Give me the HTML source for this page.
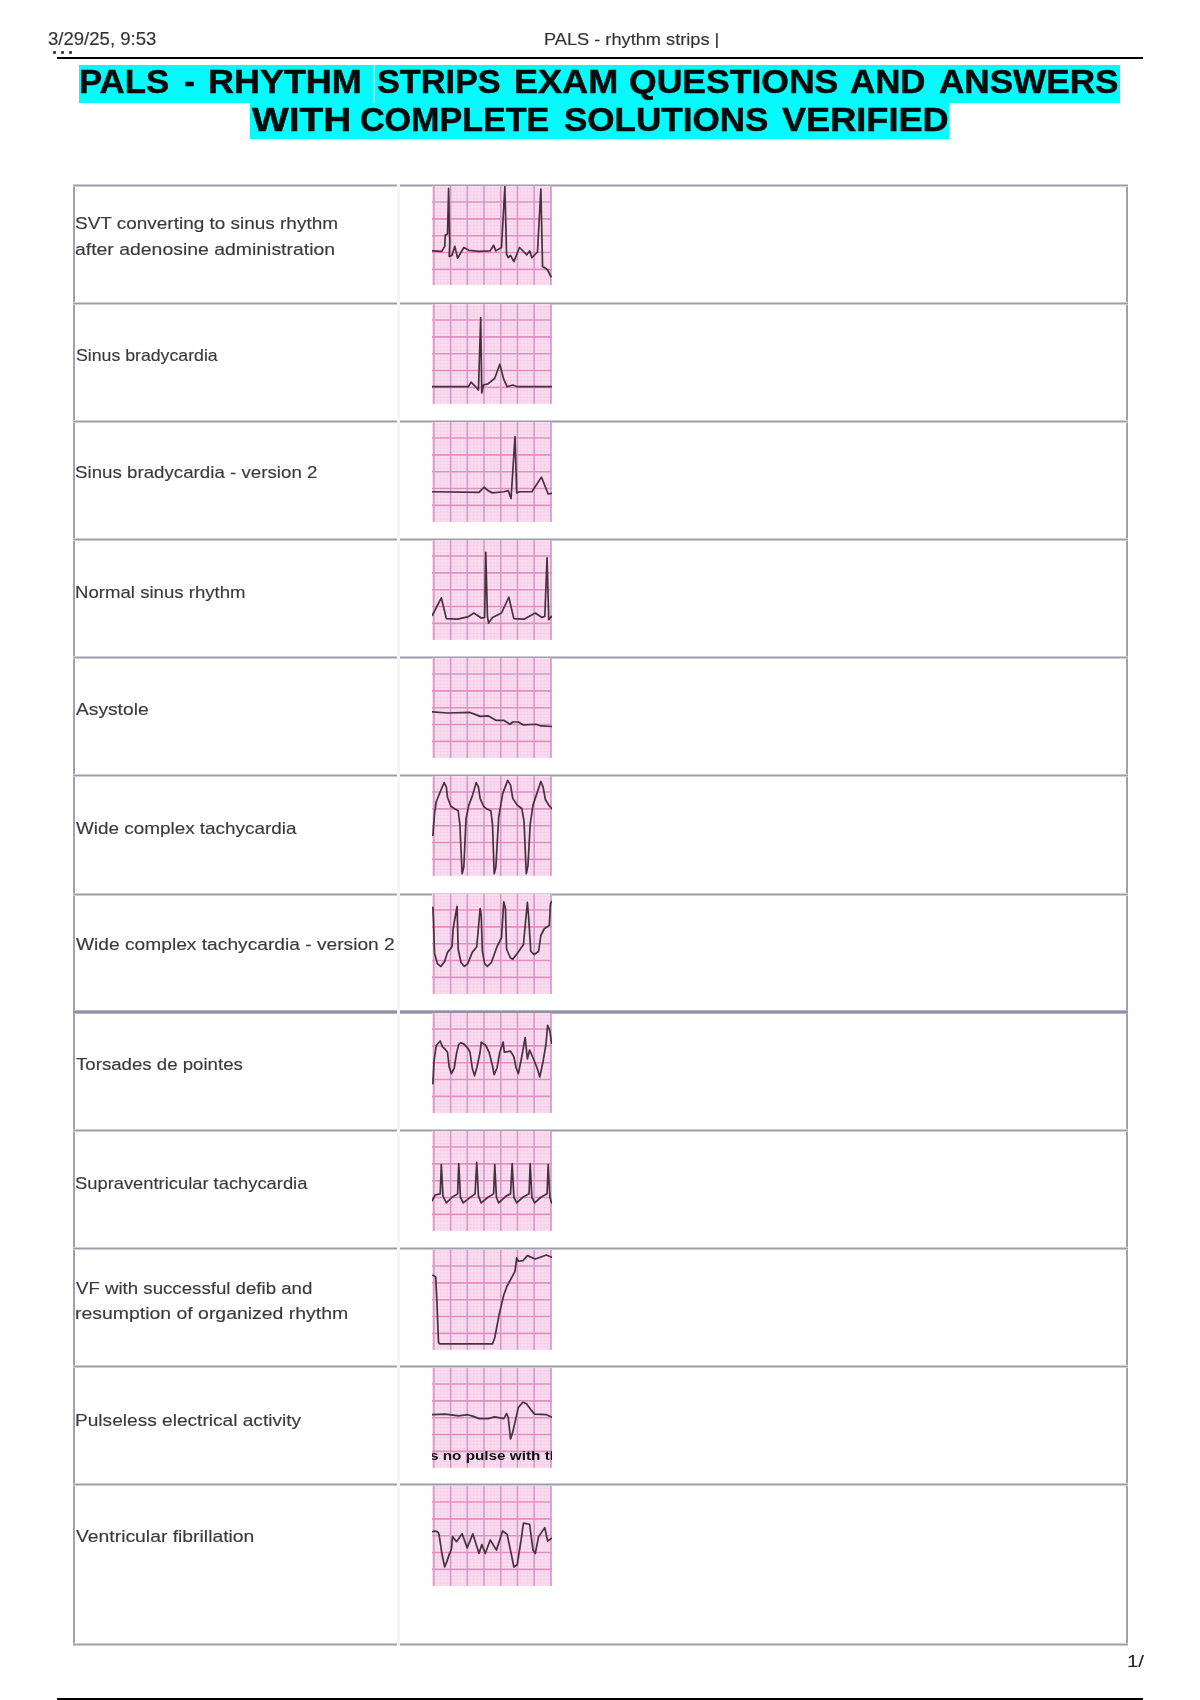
<!DOCTYPE html>
<html><head><meta charset="utf-8"><title>PALS - rhythm strips</title>
<style>
html,body{margin:0;padding:0;background:#fff;}
body{width:1200px;height:1700px;position:relative;overflow:hidden;font-family:"Liberation Sans",sans-serif;}
.a{position:absolute;white-space:nowrap;}
.hd{font-size:17px;color:#333;line-height:20px;transform-origin:0 0;-webkit-text-stroke:0.15px #333;}
.ttl{font-weight:700;font-size:30.5px;color:#050a0a;line-height:36px;transform-origin:0 0;-webkit-text-stroke:0.5px #050a0a;}
.hl{position:absolute;background:#05fbfb;}
.lb{font-size:15.8px;color:#3a3a3a;line-height:20px;transform-origin:0 0;-webkit-text-stroke:0.15px #3a3a3a;}
.hr{position:absolute;background:#000;}
.pgc{color:#222;}
.bd{position:absolute;background:#a0a0ac;}
.rl{background:linear-gradient(#e4e4ea,#9e9eaa 50%,#e4e4ea);}
.strip{position:absolute;left:432px;width:120px;height:100px;}
.strip svg{display:block;}
.mn{stroke:#f4cae4;stroke-width:0.6;}
.mv{stroke:#d498c2;stroke-width:1.6;}
.mh{stroke:#de90c2;stroke-width:1.6;}
.wv{fill:none;stroke:#46323f;stroke-width:1.7;stroke-linejoin:round;stroke-linecap:round;}
</style></head><body><div id="wrap" style="position:absolute;left:0;top:0;width:1200px;height:1700px;filter:blur(0.45px)">

<div class="a hd" id="date" style="left:48.10px;top:29.00px;font-size:17.5px;transform:scaleX(1.0606)">3/29/25, 9:53</div>
<div class="a" style="left:52.8px;top:50.8px;width:3px;height:2.8px;border-radius:1px;background:#3a3a3a"></div><div class="a" style="left:61px;top:50.8px;width:3px;height:2.8px;border-radius:1px;background:#3a3a3a"></div><div class="a" style="left:69.2px;top:50.8px;width:3px;height:2.8px;border-radius:1px;background:#3a3a3a"></div>
<div class="a hd" id="ptitle" style="left:544.06px;top:30.00px;font-size:17.0px;transform:scaleX(1.0706)">PALS - rhythm strips |</div>
<div class="hr" style="left:57px;top:57px;width:1086px;height:2px"></div>
<div class="hl" style="left:79px;top:65px;width:1041px;height:38px"></div>
<div class="a" style="left:373px;top:65px;width:1.5px;height:39px;background:#8cfafa"></div>
<div class="hl" style="left:250px;top:103px;width:699px;height:36px"></div>
<div class="a ttl" id="t1w0" style="left:79.46px;top:63.00px;font-size:34.0px;transform:scaleX(1.0220)">PALS</div>
<div class="a ttl" id="t1w1" style="left:184.10px;top:63.00px;font-size:34.0px;transform:scaleX(0.9662)">-</div>
<div class="a ttl" id="t1w2" style="left:207.99px;top:63.00px;font-size:34.0px;transform:scaleX(1.0571)">RHYTHM</div>
<div class="a ttl" id="t1w3" style="left:376.61px;top:63.00px;font-size:34.0px;transform:scaleX(1.0072)">STRIPS</div>
<div class="a ttl" id="t1w4" style="left:514.08px;top:63.00px;font-size:34.0px;transform:scaleX(1.0606)">EXAM</div>
<div class="a ttl" id="t1w5" style="left:629.00px;top:63.00px;font-size:34.0px;transform:scaleX(1.0450)">QUESTIONS</div>
<div class="a ttl" id="t1w6" style="left:850.11px;top:63.00px;font-size:34.0px;transform:scaleX(1.0253)">AND</div>
<div class="a ttl" id="t1w7" style="left:939.01px;top:63.00px;font-size:34.0px;transform:scaleX(1.0325)">ANSWERS</div>
<div class="a ttl" id="t2w0" style="left:252.00px;top:100.80px;font-size:34.0px;transform:scaleX(1.1421)">WITH</div>
<div class="a ttl" id="t2w1" style="left:360.13px;top:100.80px;font-size:34.0px;transform:scaleX(1.0018)">COMPLETE</div>
<div class="a ttl" id="t2w2" style="left:564.02px;top:100.80px;font-size:34.0px;transform:scaleX(1.0301)">SOLUTIONS</div>
<div class="a ttl" id="t2w3" style="left:782.49px;top:100.80px;font-size:34.0px;transform:scaleX(1.0629)">VERIFIED</div>
<div class="bd" style="left:73px;top:184px;width:2px;height:1462px"></div>
<div class="bd" style="left:1126px;top:184px;width:2px;height:1462px"></div>
<div class="a rl" style="left:73px;top:183.50px;width:1055px;height:3px"></div>
<div class="a rl" style="left:73px;top:301.68px;width:1055px;height:3px"></div>
<div class="a rl" style="left:73px;top:419.86px;width:1055px;height:3px"></div>
<div class="a rl" style="left:73px;top:538.04px;width:1055px;height:3px"></div>
<div class="a rl" style="left:73px;top:656.22px;width:1055px;height:3px"></div>
<div class="a rl" style="left:73px;top:774.40px;width:1055px;height:3px"></div>
<div class="a rl" style="left:73px;top:892.58px;width:1055px;height:3px"></div>
<div class="a" style="left:73px;top:1010.26px;width:1055px;height:4px;background:linear-gradient(#c4c6d4,#8a8ca2 40%,#8a8ca2 60%,#c4c6d4)"></div>
<div class="a rl" style="left:73px;top:1128.94px;width:1055px;height:3px"></div>
<div class="a rl" style="left:73px;top:1247.12px;width:1055px;height:3px"></div>
<div class="a rl" style="left:73px;top:1365.30px;width:1055px;height:3px"></div>
<div class="a rl" style="left:73px;top:1483.48px;width:1055px;height:3px"></div>
<div class="a rl" style="left:73px;top:1643.00px;width:1055px;height:3px"></div>
<div class="a" style="left:397px;top:184px;width:2.5px;height:1462px;background:#f5f5f8"></div>
<div class="a lb" id="l0_0" style="left:74.94px;top:213.30px;font-size:16.4px;transform:scaleX(1.1562)">SVT converting to sinus rhythm</div>
<div class="a lb" id="l0_1" style="left:74.90px;top:238.50px;font-size:16.4px;transform:scaleX(1.1842)">after adenosine administration</div>
<div class="a lb" id="l1_0" style="left:75.99px;top:345.40px;font-size:16.4px;transform:scaleX(1.0798)">Sinus bradycardia</div>
<div class="a lb" id="l2_0" style="left:74.96px;top:462.40px;font-size:16.4px;transform:scaleX(1.1420)">Sinus bradycardia - version 2</div>
<div class="a lb" id="l3_0" style="left:74.85px;top:582.00px;font-size:16.4px;transform:scaleX(1.1352)">Normal sinus rhythm</div>
<div class="a lb" id="l4_0" style="left:75.75px;top:698.80px;font-size:16.4px;transform:scaleX(1.1717)">Asystole</div>
<div class="a lb" id="l5_0" style="left:75.94px;top:817.80px;font-size:16.4px;transform:scaleX(1.1520)">Wide complex tachycardia</div>
<div class="a lb" id="l6_0" style="left:75.93px;top:934.20px;font-size:16.4px;transform:scaleX(1.1703)">Wide complex tachycardia - version 2</div>
<div class="a lb" id="l7_0" style="left:75.90px;top:1053.80px;font-size:16.4px;transform:scaleX(1.1373)">Torsades de pointes</div>
<div class="a lb" id="l8_0" style="left:74.96px;top:1173.40px;font-size:16.4px;transform:scaleX(1.1187)">Supraventricular tachycardia</div>
<div class="a lb" id="l9_0" style="left:75.95px;top:1278.40px;font-size:16.4px;transform:scaleX(1.1377)">VF with successful defib and</div>
<div class="a lb" id="l9_1" style="left:74.88px;top:1303.20px;font-size:16.4px;transform:scaleX(1.1852)">resumption of organized rhythm</div>
<div class="a lb" id="l10_0" style="left:74.88px;top:1409.60px;font-size:16.4px;transform:scaleX(1.1654)">Pulseless electrical activity</div>
<div class="a lb" id="l11_0" style="left:75.85px;top:1526.00px;font-size:16.4px;transform:scaleX(1.1794)">Ventricular fibrillation</div>
<div class="strip" style="top:186px;height:99px;overflow:hidden"><svg width="120" height="99" viewBox="0 0 120 99"><rect width="120" height="100" fill="#fcdef3"/><line x1="5.24" y1="0" x2="5.24" y2="100" class="mn"/><line x1="8.58" y1="0" x2="8.58" y2="100" class="mn"/><line x1="11.93" y1="0" x2="11.93" y2="100" class="mn"/><line x1="15.27" y1="0" x2="15.27" y2="100" class="mn"/><line x1="21.95" y1="0" x2="21.95" y2="100" class="mn"/><line x1="25.29" y1="0" x2="25.29" y2="100" class="mn"/><line x1="28.64" y1="0" x2="28.64" y2="100" class="mn"/><line x1="31.98" y1="0" x2="31.98" y2="100" class="mn"/><line x1="38.66" y1="0" x2="38.66" y2="100" class="mn"/><line x1="42.00" y1="0" x2="42.00" y2="100" class="mn"/><line x1="45.35" y1="0" x2="45.35" y2="100" class="mn"/><line x1="48.69" y1="0" x2="48.69" y2="100" class="mn"/><line x1="55.37" y1="0" x2="55.37" y2="100" class="mn"/><line x1="58.71" y1="0" x2="58.71" y2="100" class="mn"/><line x1="62.06" y1="0" x2="62.06" y2="100" class="mn"/><line x1="65.40" y1="0" x2="65.40" y2="100" class="mn"/><line x1="72.08" y1="0" x2="72.08" y2="100" class="mn"/><line x1="75.42" y1="0" x2="75.42" y2="100" class="mn"/><line x1="78.77" y1="0" x2="78.77" y2="100" class="mn"/><line x1="82.11" y1="0" x2="82.11" y2="100" class="mn"/><line x1="88.79" y1="0" x2="88.79" y2="100" class="mn"/><line x1="92.13" y1="0" x2="92.13" y2="100" class="mn"/><line x1="95.48" y1="0" x2="95.48" y2="100" class="mn"/><line x1="98.82" y1="0" x2="98.82" y2="100" class="mn"/><line x1="105.50" y1="0" x2="105.50" y2="100" class="mn"/><line x1="108.84" y1="0" x2="108.84" y2="100" class="mn"/><line x1="112.19" y1="0" x2="112.19" y2="100" class="mn"/><line x1="115.53" y1="0" x2="115.53" y2="100" class="mn"/><line x1="0" y1="2.52" x2="120" y2="2.52" class="mn"/><line x1="0" y1="5.89" x2="120" y2="5.89" class="mn"/><line x1="0" y1="9.26" x2="120" y2="9.26" class="mn"/><line x1="0" y1="12.63" x2="120" y2="12.63" class="mn"/><line x1="0" y1="19.37" x2="120" y2="19.37" class="mn"/><line x1="0" y1="22.74" x2="120" y2="22.74" class="mn"/><line x1="0" y1="26.11" x2="120" y2="26.11" class="mn"/><line x1="0" y1="29.48" x2="120" y2="29.48" class="mn"/><line x1="0" y1="36.22" x2="120" y2="36.22" class="mn"/><line x1="0" y1="39.59" x2="120" y2="39.59" class="mn"/><line x1="0" y1="42.96" x2="120" y2="42.96" class="mn"/><line x1="0" y1="46.33" x2="120" y2="46.33" class="mn"/><line x1="0" y1="53.07" x2="120" y2="53.07" class="mn"/><line x1="0" y1="56.44" x2="120" y2="56.44" class="mn"/><line x1="0" y1="59.81" x2="120" y2="59.81" class="mn"/><line x1="0" y1="63.18" x2="120" y2="63.18" class="mn"/><line x1="0" y1="69.92" x2="120" y2="69.92" class="mn"/><line x1="0" y1="73.29" x2="120" y2="73.29" class="mn"/><line x1="0" y1="76.66" x2="120" y2="76.66" class="mn"/><line x1="0" y1="80.03" x2="120" y2="80.03" class="mn"/><line x1="0" y1="86.77" x2="120" y2="86.77" class="mn"/><line x1="0" y1="90.14" x2="120" y2="90.14" class="mn"/><line x1="0" y1="93.51" x2="120" y2="93.51" class="mn"/><line x1="0" y1="96.88" x2="120" y2="96.88" class="mn"/><line x1="1.90" y1="0" x2="1.90" y2="100" class="mv"/><line x1="18.61" y1="0" x2="18.61" y2="100" class="mv"/><line x1="35.32" y1="0" x2="35.32" y2="100" class="mv"/><line x1="52.03" y1="0" x2="52.03" y2="100" class="mv"/><line x1="68.74" y1="0" x2="68.74" y2="100" class="mv"/><line x1="85.45" y1="0" x2="85.45" y2="100" class="mv"/><line x1="102.16" y1="0" x2="102.16" y2="100" class="mv"/><line x1="118.87" y1="0" x2="118.87" y2="100" class="mv"/><line x1="0" y1="16.00" x2="120" y2="16.00" class="mh"/><line x1="0" y1="32.85" x2="120" y2="32.85" class="mh"/><line x1="0" y1="49.70" x2="120" y2="49.70" class="mh"/><line x1="0" y1="66.55" x2="120" y2="66.55" class="mh"/><line x1="0" y1="83.40" x2="120" y2="83.40" class="mh"/><polyline class="wv" points="0.31,64.87 9.87,65.44 12.69,60.37 13.25,49.12 15.50,48.00 16.62,2.44 17.75,57.00 17.19,70.50 20.00,69.37 22.81,60.37 25.62,72.19 31.81,61.50 36.87,64.31 47.00,65.44 58.25,64.87 61.62,59.25 63.87,64.87 69.50,61.50 72.87,0.75 74.56,68.25 76.25,71.62 78.50,69.37 81.87,75.56 87.50,61.50 92.00,66.00 94.81,68.81 97.62,64.87 99.87,71.62 105.50,66.00 108.87,3.00 110.56,80.62 112.81,81.75 115.62,84.00 119.00,90.75"/></svg></div>
<div class="strip" style="top:304px;height:100px;overflow:hidden"><svg width="120" height="100" viewBox="0 0 120 100"><rect width="120" height="100" fill="#fcdef3"/><line x1="5.24" y1="0" x2="5.24" y2="100" class="mn"/><line x1="8.58" y1="0" x2="8.58" y2="100" class="mn"/><line x1="11.93" y1="0" x2="11.93" y2="100" class="mn"/><line x1="15.27" y1="0" x2="15.27" y2="100" class="mn"/><line x1="21.95" y1="0" x2="21.95" y2="100" class="mn"/><line x1="25.29" y1="0" x2="25.29" y2="100" class="mn"/><line x1="28.64" y1="0" x2="28.64" y2="100" class="mn"/><line x1="31.98" y1="0" x2="31.98" y2="100" class="mn"/><line x1="38.66" y1="0" x2="38.66" y2="100" class="mn"/><line x1="42.00" y1="0" x2="42.00" y2="100" class="mn"/><line x1="45.35" y1="0" x2="45.35" y2="100" class="mn"/><line x1="48.69" y1="0" x2="48.69" y2="100" class="mn"/><line x1="55.37" y1="0" x2="55.37" y2="100" class="mn"/><line x1="58.71" y1="0" x2="58.71" y2="100" class="mn"/><line x1="62.06" y1="0" x2="62.06" y2="100" class="mn"/><line x1="65.40" y1="0" x2="65.40" y2="100" class="mn"/><line x1="72.08" y1="0" x2="72.08" y2="100" class="mn"/><line x1="75.42" y1="0" x2="75.42" y2="100" class="mn"/><line x1="78.77" y1="0" x2="78.77" y2="100" class="mn"/><line x1="82.11" y1="0" x2="82.11" y2="100" class="mn"/><line x1="88.79" y1="0" x2="88.79" y2="100" class="mn"/><line x1="92.13" y1="0" x2="92.13" y2="100" class="mn"/><line x1="95.48" y1="0" x2="95.48" y2="100" class="mn"/><line x1="98.82" y1="0" x2="98.82" y2="100" class="mn"/><line x1="105.50" y1="0" x2="105.50" y2="100" class="mn"/><line x1="108.84" y1="0" x2="108.84" y2="100" class="mn"/><line x1="112.19" y1="0" x2="112.19" y2="100" class="mn"/><line x1="115.53" y1="0" x2="115.53" y2="100" class="mn"/><line x1="0" y1="2.52" x2="120" y2="2.52" class="mn"/><line x1="0" y1="5.89" x2="120" y2="5.89" class="mn"/><line x1="0" y1="9.26" x2="120" y2="9.26" class="mn"/><line x1="0" y1="12.63" x2="120" y2="12.63" class="mn"/><line x1="0" y1="19.37" x2="120" y2="19.37" class="mn"/><line x1="0" y1="22.74" x2="120" y2="22.74" class="mn"/><line x1="0" y1="26.11" x2="120" y2="26.11" class="mn"/><line x1="0" y1="29.48" x2="120" y2="29.48" class="mn"/><line x1="0" y1="36.22" x2="120" y2="36.22" class="mn"/><line x1="0" y1="39.59" x2="120" y2="39.59" class="mn"/><line x1="0" y1="42.96" x2="120" y2="42.96" class="mn"/><line x1="0" y1="46.33" x2="120" y2="46.33" class="mn"/><line x1="0" y1="53.07" x2="120" y2="53.07" class="mn"/><line x1="0" y1="56.44" x2="120" y2="56.44" class="mn"/><line x1="0" y1="59.81" x2="120" y2="59.81" class="mn"/><line x1="0" y1="63.18" x2="120" y2="63.18" class="mn"/><line x1="0" y1="69.92" x2="120" y2="69.92" class="mn"/><line x1="0" y1="73.29" x2="120" y2="73.29" class="mn"/><line x1="0" y1="76.66" x2="120" y2="76.66" class="mn"/><line x1="0" y1="80.03" x2="120" y2="80.03" class="mn"/><line x1="0" y1="86.77" x2="120" y2="86.77" class="mn"/><line x1="0" y1="90.14" x2="120" y2="90.14" class="mn"/><line x1="0" y1="93.51" x2="120" y2="93.51" class="mn"/><line x1="0" y1="96.88" x2="120" y2="96.88" class="mn"/><line x1="1.90" y1="0" x2="1.90" y2="100" class="mv"/><line x1="18.61" y1="0" x2="18.61" y2="100" class="mv"/><line x1="35.32" y1="0" x2="35.32" y2="100" class="mv"/><line x1="52.03" y1="0" x2="52.03" y2="100" class="mv"/><line x1="68.74" y1="0" x2="68.74" y2="100" class="mv"/><line x1="85.45" y1="0" x2="85.45" y2="100" class="mv"/><line x1="102.16" y1="0" x2="102.16" y2="100" class="mv"/><line x1="118.87" y1="0" x2="118.87" y2="100" class="mv"/><line x1="0" y1="16.00" x2="120" y2="16.00" class="mh"/><line x1="0" y1="32.85" x2="120" y2="32.85" class="mh"/><line x1="0" y1="49.70" x2="120" y2="49.70" class="mh"/><line x1="0" y1="66.55" x2="120" y2="66.55" class="mh"/><line x1="0" y1="83.40" x2="120" y2="83.40" class="mh"/><polyline class="wv" points="0.31,82.69 36.31,82.69 39.12,78.19 42.50,81.56 46.44,86.06 48.69,13.50 49.81,88.87 51.50,81.00 56.00,79.87 62.75,74.25 67.81,60.19 71.75,75.37 75.12,82.69 80.75,81.00 85.25,82.69 119.56,82.69"/></svg></div>
<div class="strip" style="top:422px;height:100px;overflow:hidden"><svg width="120" height="100" viewBox="0 0 120 100"><rect width="120" height="100" fill="#fcdef3"/><line x1="5.24" y1="0" x2="5.24" y2="100" class="mn"/><line x1="8.58" y1="0" x2="8.58" y2="100" class="mn"/><line x1="11.93" y1="0" x2="11.93" y2="100" class="mn"/><line x1="15.27" y1="0" x2="15.27" y2="100" class="mn"/><line x1="21.95" y1="0" x2="21.95" y2="100" class="mn"/><line x1="25.29" y1="0" x2="25.29" y2="100" class="mn"/><line x1="28.64" y1="0" x2="28.64" y2="100" class="mn"/><line x1="31.98" y1="0" x2="31.98" y2="100" class="mn"/><line x1="38.66" y1="0" x2="38.66" y2="100" class="mn"/><line x1="42.00" y1="0" x2="42.00" y2="100" class="mn"/><line x1="45.35" y1="0" x2="45.35" y2="100" class="mn"/><line x1="48.69" y1="0" x2="48.69" y2="100" class="mn"/><line x1="55.37" y1="0" x2="55.37" y2="100" class="mn"/><line x1="58.71" y1="0" x2="58.71" y2="100" class="mn"/><line x1="62.06" y1="0" x2="62.06" y2="100" class="mn"/><line x1="65.40" y1="0" x2="65.40" y2="100" class="mn"/><line x1="72.08" y1="0" x2="72.08" y2="100" class="mn"/><line x1="75.42" y1="0" x2="75.42" y2="100" class="mn"/><line x1="78.77" y1="0" x2="78.77" y2="100" class="mn"/><line x1="82.11" y1="0" x2="82.11" y2="100" class="mn"/><line x1="88.79" y1="0" x2="88.79" y2="100" class="mn"/><line x1="92.13" y1="0" x2="92.13" y2="100" class="mn"/><line x1="95.48" y1="0" x2="95.48" y2="100" class="mn"/><line x1="98.82" y1="0" x2="98.82" y2="100" class="mn"/><line x1="105.50" y1="0" x2="105.50" y2="100" class="mn"/><line x1="108.84" y1="0" x2="108.84" y2="100" class="mn"/><line x1="112.19" y1="0" x2="112.19" y2="100" class="mn"/><line x1="115.53" y1="0" x2="115.53" y2="100" class="mn"/><line x1="0" y1="2.52" x2="120" y2="2.52" class="mn"/><line x1="0" y1="5.89" x2="120" y2="5.89" class="mn"/><line x1="0" y1="9.26" x2="120" y2="9.26" class="mn"/><line x1="0" y1="12.63" x2="120" y2="12.63" class="mn"/><line x1="0" y1="19.37" x2="120" y2="19.37" class="mn"/><line x1="0" y1="22.74" x2="120" y2="22.74" class="mn"/><line x1="0" y1="26.11" x2="120" y2="26.11" class="mn"/><line x1="0" y1="29.48" x2="120" y2="29.48" class="mn"/><line x1="0" y1="36.22" x2="120" y2="36.22" class="mn"/><line x1="0" y1="39.59" x2="120" y2="39.59" class="mn"/><line x1="0" y1="42.96" x2="120" y2="42.96" class="mn"/><line x1="0" y1="46.33" x2="120" y2="46.33" class="mn"/><line x1="0" y1="53.07" x2="120" y2="53.07" class="mn"/><line x1="0" y1="56.44" x2="120" y2="56.44" class="mn"/><line x1="0" y1="59.81" x2="120" y2="59.81" class="mn"/><line x1="0" y1="63.18" x2="120" y2="63.18" class="mn"/><line x1="0" y1="69.92" x2="120" y2="69.92" class="mn"/><line x1="0" y1="73.29" x2="120" y2="73.29" class="mn"/><line x1="0" y1="76.66" x2="120" y2="76.66" class="mn"/><line x1="0" y1="80.03" x2="120" y2="80.03" class="mn"/><line x1="0" y1="86.77" x2="120" y2="86.77" class="mn"/><line x1="0" y1="90.14" x2="120" y2="90.14" class="mn"/><line x1="0" y1="93.51" x2="120" y2="93.51" class="mn"/><line x1="0" y1="96.88" x2="120" y2="96.88" class="mn"/><line x1="1.90" y1="0" x2="1.90" y2="100" class="mv"/><line x1="18.61" y1="0" x2="18.61" y2="100" class="mv"/><line x1="35.32" y1="0" x2="35.32" y2="100" class="mv"/><line x1="52.03" y1="0" x2="52.03" y2="100" class="mv"/><line x1="68.74" y1="0" x2="68.74" y2="100" class="mv"/><line x1="85.45" y1="0" x2="85.45" y2="100" class="mv"/><line x1="102.16" y1="0" x2="102.16" y2="100" class="mv"/><line x1="118.87" y1="0" x2="118.87" y2="100" class="mv"/><line x1="0" y1="16.00" x2="120" y2="16.00" class="mh"/><line x1="0" y1="32.85" x2="120" y2="32.85" class="mh"/><line x1="0" y1="49.70" x2="120" y2="49.70" class="mh"/><line x1="0" y1="66.55" x2="120" y2="66.55" class="mh"/><line x1="0" y1="83.40" x2="120" y2="83.40" class="mh"/><polyline class="wv" points="0.31,69.75 47.00,70.31 52.06,65.25 56.00,68.62 60.50,70.87 71.75,69.75 76.25,68.62 79.06,76.50 83.00,14.62 84.69,70.87 87.50,69.75 99.87,69.75 109.44,55.12 116.19,72.00 119.56,71.44"/></svg></div>
<div class="strip" style="top:540px;height:100px;overflow:hidden"><svg width="120" height="100" viewBox="0 0 120 100"><rect width="120" height="100" fill="#fcdef3"/><line x1="5.24" y1="0" x2="5.24" y2="100" class="mn"/><line x1="8.58" y1="0" x2="8.58" y2="100" class="mn"/><line x1="11.93" y1="0" x2="11.93" y2="100" class="mn"/><line x1="15.27" y1="0" x2="15.27" y2="100" class="mn"/><line x1="21.95" y1="0" x2="21.95" y2="100" class="mn"/><line x1="25.29" y1="0" x2="25.29" y2="100" class="mn"/><line x1="28.64" y1="0" x2="28.64" y2="100" class="mn"/><line x1="31.98" y1="0" x2="31.98" y2="100" class="mn"/><line x1="38.66" y1="0" x2="38.66" y2="100" class="mn"/><line x1="42.00" y1="0" x2="42.00" y2="100" class="mn"/><line x1="45.35" y1="0" x2="45.35" y2="100" class="mn"/><line x1="48.69" y1="0" x2="48.69" y2="100" class="mn"/><line x1="55.37" y1="0" x2="55.37" y2="100" class="mn"/><line x1="58.71" y1="0" x2="58.71" y2="100" class="mn"/><line x1="62.06" y1="0" x2="62.06" y2="100" class="mn"/><line x1="65.40" y1="0" x2="65.40" y2="100" class="mn"/><line x1="72.08" y1="0" x2="72.08" y2="100" class="mn"/><line x1="75.42" y1="0" x2="75.42" y2="100" class="mn"/><line x1="78.77" y1="0" x2="78.77" y2="100" class="mn"/><line x1="82.11" y1="0" x2="82.11" y2="100" class="mn"/><line x1="88.79" y1="0" x2="88.79" y2="100" class="mn"/><line x1="92.13" y1="0" x2="92.13" y2="100" class="mn"/><line x1="95.48" y1="0" x2="95.48" y2="100" class="mn"/><line x1="98.82" y1="0" x2="98.82" y2="100" class="mn"/><line x1="105.50" y1="0" x2="105.50" y2="100" class="mn"/><line x1="108.84" y1="0" x2="108.84" y2="100" class="mn"/><line x1="112.19" y1="0" x2="112.19" y2="100" class="mn"/><line x1="115.53" y1="0" x2="115.53" y2="100" class="mn"/><line x1="0" y1="2.52" x2="120" y2="2.52" class="mn"/><line x1="0" y1="5.89" x2="120" y2="5.89" class="mn"/><line x1="0" y1="9.26" x2="120" y2="9.26" class="mn"/><line x1="0" y1="12.63" x2="120" y2="12.63" class="mn"/><line x1="0" y1="19.37" x2="120" y2="19.37" class="mn"/><line x1="0" y1="22.74" x2="120" y2="22.74" class="mn"/><line x1="0" y1="26.11" x2="120" y2="26.11" class="mn"/><line x1="0" y1="29.48" x2="120" y2="29.48" class="mn"/><line x1="0" y1="36.22" x2="120" y2="36.22" class="mn"/><line x1="0" y1="39.59" x2="120" y2="39.59" class="mn"/><line x1="0" y1="42.96" x2="120" y2="42.96" class="mn"/><line x1="0" y1="46.33" x2="120" y2="46.33" class="mn"/><line x1="0" y1="53.07" x2="120" y2="53.07" class="mn"/><line x1="0" y1="56.44" x2="120" y2="56.44" class="mn"/><line x1="0" y1="59.81" x2="120" y2="59.81" class="mn"/><line x1="0" y1="63.18" x2="120" y2="63.18" class="mn"/><line x1="0" y1="69.92" x2="120" y2="69.92" class="mn"/><line x1="0" y1="73.29" x2="120" y2="73.29" class="mn"/><line x1="0" y1="76.66" x2="120" y2="76.66" class="mn"/><line x1="0" y1="80.03" x2="120" y2="80.03" class="mn"/><line x1="0" y1="86.77" x2="120" y2="86.77" class="mn"/><line x1="0" y1="90.14" x2="120" y2="90.14" class="mn"/><line x1="0" y1="93.51" x2="120" y2="93.51" class="mn"/><line x1="0" y1="96.88" x2="120" y2="96.88" class="mn"/><line x1="1.90" y1="0" x2="1.90" y2="100" class="mv"/><line x1="18.61" y1="0" x2="18.61" y2="100" class="mv"/><line x1="35.32" y1="0" x2="35.32" y2="100" class="mv"/><line x1="52.03" y1="0" x2="52.03" y2="100" class="mv"/><line x1="68.74" y1="0" x2="68.74" y2="100" class="mv"/><line x1="85.45" y1="0" x2="85.45" y2="100" class="mv"/><line x1="102.16" y1="0" x2="102.16" y2="100" class="mv"/><line x1="118.87" y1="0" x2="118.87" y2="100" class="mv"/><line x1="0" y1="16.00" x2="120" y2="16.00" class="mh"/><line x1="0" y1="32.85" x2="120" y2="32.85" class="mh"/><line x1="0" y1="49.70" x2="120" y2="49.70" class="mh"/><line x1="0" y1="66.55" x2="120" y2="66.55" class="mh"/><line x1="0" y1="83.40" x2="120" y2="83.40" class="mh"/><polyline class="wv" points="0.31,75.25 9.31,57.81 14.37,78.62 25.62,79.19 35.75,76.94 41.94,73.00 49.25,78.06 52.62,77.50 53.75,12.25 55.44,76.37 56.56,83.12 60.50,77.50 69.50,73.00 76.81,57.25 81.87,78.62 92.00,79.19 103.25,73.00 110.00,77.50 112.81,76.37 115.06,17.87 116.75,79.75 119.56,76.37"/></svg></div>
<div class="strip" style="top:658px;height:100px;overflow:hidden"><svg width="120" height="100" viewBox="0 0 120 100"><rect width="120" height="100" fill="#fcdef3"/><line x1="5.24" y1="0" x2="5.24" y2="100" class="mn"/><line x1="8.58" y1="0" x2="8.58" y2="100" class="mn"/><line x1="11.93" y1="0" x2="11.93" y2="100" class="mn"/><line x1="15.27" y1="0" x2="15.27" y2="100" class="mn"/><line x1="21.95" y1="0" x2="21.95" y2="100" class="mn"/><line x1="25.29" y1="0" x2="25.29" y2="100" class="mn"/><line x1="28.64" y1="0" x2="28.64" y2="100" class="mn"/><line x1="31.98" y1="0" x2="31.98" y2="100" class="mn"/><line x1="38.66" y1="0" x2="38.66" y2="100" class="mn"/><line x1="42.00" y1="0" x2="42.00" y2="100" class="mn"/><line x1="45.35" y1="0" x2="45.35" y2="100" class="mn"/><line x1="48.69" y1="0" x2="48.69" y2="100" class="mn"/><line x1="55.37" y1="0" x2="55.37" y2="100" class="mn"/><line x1="58.71" y1="0" x2="58.71" y2="100" class="mn"/><line x1="62.06" y1="0" x2="62.06" y2="100" class="mn"/><line x1="65.40" y1="0" x2="65.40" y2="100" class="mn"/><line x1="72.08" y1="0" x2="72.08" y2="100" class="mn"/><line x1="75.42" y1="0" x2="75.42" y2="100" class="mn"/><line x1="78.77" y1="0" x2="78.77" y2="100" class="mn"/><line x1="82.11" y1="0" x2="82.11" y2="100" class="mn"/><line x1="88.79" y1="0" x2="88.79" y2="100" class="mn"/><line x1="92.13" y1="0" x2="92.13" y2="100" class="mn"/><line x1="95.48" y1="0" x2="95.48" y2="100" class="mn"/><line x1="98.82" y1="0" x2="98.82" y2="100" class="mn"/><line x1="105.50" y1="0" x2="105.50" y2="100" class="mn"/><line x1="108.84" y1="0" x2="108.84" y2="100" class="mn"/><line x1="112.19" y1="0" x2="112.19" y2="100" class="mn"/><line x1="115.53" y1="0" x2="115.53" y2="100" class="mn"/><line x1="0" y1="2.52" x2="120" y2="2.52" class="mn"/><line x1="0" y1="5.89" x2="120" y2="5.89" class="mn"/><line x1="0" y1="9.26" x2="120" y2="9.26" class="mn"/><line x1="0" y1="12.63" x2="120" y2="12.63" class="mn"/><line x1="0" y1="19.37" x2="120" y2="19.37" class="mn"/><line x1="0" y1="22.74" x2="120" y2="22.74" class="mn"/><line x1="0" y1="26.11" x2="120" y2="26.11" class="mn"/><line x1="0" y1="29.48" x2="120" y2="29.48" class="mn"/><line x1="0" y1="36.22" x2="120" y2="36.22" class="mn"/><line x1="0" y1="39.59" x2="120" y2="39.59" class="mn"/><line x1="0" y1="42.96" x2="120" y2="42.96" class="mn"/><line x1="0" y1="46.33" x2="120" y2="46.33" class="mn"/><line x1="0" y1="53.07" x2="120" y2="53.07" class="mn"/><line x1="0" y1="56.44" x2="120" y2="56.44" class="mn"/><line x1="0" y1="59.81" x2="120" y2="59.81" class="mn"/><line x1="0" y1="63.18" x2="120" y2="63.18" class="mn"/><line x1="0" y1="69.92" x2="120" y2="69.92" class="mn"/><line x1="0" y1="73.29" x2="120" y2="73.29" class="mn"/><line x1="0" y1="76.66" x2="120" y2="76.66" class="mn"/><line x1="0" y1="80.03" x2="120" y2="80.03" class="mn"/><line x1="0" y1="86.77" x2="120" y2="86.77" class="mn"/><line x1="0" y1="90.14" x2="120" y2="90.14" class="mn"/><line x1="0" y1="93.51" x2="120" y2="93.51" class="mn"/><line x1="0" y1="96.88" x2="120" y2="96.88" class="mn"/><line x1="1.90" y1="0" x2="1.90" y2="100" class="mv"/><line x1="18.61" y1="0" x2="18.61" y2="100" class="mv"/><line x1="35.32" y1="0" x2="35.32" y2="100" class="mv"/><line x1="52.03" y1="0" x2="52.03" y2="100" class="mv"/><line x1="68.74" y1="0" x2="68.74" y2="100" class="mv"/><line x1="85.45" y1="0" x2="85.45" y2="100" class="mv"/><line x1="102.16" y1="0" x2="102.16" y2="100" class="mv"/><line x1="118.87" y1="0" x2="118.87" y2="100" class="mv"/><line x1="0" y1="16.00" x2="120" y2="16.00" class="mh"/><line x1="0" y1="32.85" x2="120" y2="32.85" class="mh"/><line x1="0" y1="49.70" x2="120" y2="49.70" class="mh"/><line x1="0" y1="66.55" x2="120" y2="66.55" class="mh"/><line x1="0" y1="83.40" x2="120" y2="83.40" class="mh"/><polyline class="wv" points="0.31,53.87 15.50,55.00 38.00,54.44 42.50,56.12 48.12,58.37 56.00,57.81 63.87,62.31 71.75,62.31 77.94,66.25 80.75,64.00 86.37,64.00 90.87,66.81 104.37,66.25 108.87,67.94 119.56,68.50"/></svg></div>
<div class="strip" style="top:776px;height:100px;overflow:hidden"><svg width="120" height="100" viewBox="0 0 120 100"><rect width="120" height="100" fill="#fcdef3"/><line x1="5.24" y1="0" x2="5.24" y2="100" class="mn"/><line x1="8.58" y1="0" x2="8.58" y2="100" class="mn"/><line x1="11.93" y1="0" x2="11.93" y2="100" class="mn"/><line x1="15.27" y1="0" x2="15.27" y2="100" class="mn"/><line x1="21.95" y1="0" x2="21.95" y2="100" class="mn"/><line x1="25.29" y1="0" x2="25.29" y2="100" class="mn"/><line x1="28.64" y1="0" x2="28.64" y2="100" class="mn"/><line x1="31.98" y1="0" x2="31.98" y2="100" class="mn"/><line x1="38.66" y1="0" x2="38.66" y2="100" class="mn"/><line x1="42.00" y1="0" x2="42.00" y2="100" class="mn"/><line x1="45.35" y1="0" x2="45.35" y2="100" class="mn"/><line x1="48.69" y1="0" x2="48.69" y2="100" class="mn"/><line x1="55.37" y1="0" x2="55.37" y2="100" class="mn"/><line x1="58.71" y1="0" x2="58.71" y2="100" class="mn"/><line x1="62.06" y1="0" x2="62.06" y2="100" class="mn"/><line x1="65.40" y1="0" x2="65.40" y2="100" class="mn"/><line x1="72.08" y1="0" x2="72.08" y2="100" class="mn"/><line x1="75.42" y1="0" x2="75.42" y2="100" class="mn"/><line x1="78.77" y1="0" x2="78.77" y2="100" class="mn"/><line x1="82.11" y1="0" x2="82.11" y2="100" class="mn"/><line x1="88.79" y1="0" x2="88.79" y2="100" class="mn"/><line x1="92.13" y1="0" x2="92.13" y2="100" class="mn"/><line x1="95.48" y1="0" x2="95.48" y2="100" class="mn"/><line x1="98.82" y1="0" x2="98.82" y2="100" class="mn"/><line x1="105.50" y1="0" x2="105.50" y2="100" class="mn"/><line x1="108.84" y1="0" x2="108.84" y2="100" class="mn"/><line x1="112.19" y1="0" x2="112.19" y2="100" class="mn"/><line x1="115.53" y1="0" x2="115.53" y2="100" class="mn"/><line x1="0" y1="2.52" x2="120" y2="2.52" class="mn"/><line x1="0" y1="5.89" x2="120" y2="5.89" class="mn"/><line x1="0" y1="9.26" x2="120" y2="9.26" class="mn"/><line x1="0" y1="12.63" x2="120" y2="12.63" class="mn"/><line x1="0" y1="19.37" x2="120" y2="19.37" class="mn"/><line x1="0" y1="22.74" x2="120" y2="22.74" class="mn"/><line x1="0" y1="26.11" x2="120" y2="26.11" class="mn"/><line x1="0" y1="29.48" x2="120" y2="29.48" class="mn"/><line x1="0" y1="36.22" x2="120" y2="36.22" class="mn"/><line x1="0" y1="39.59" x2="120" y2="39.59" class="mn"/><line x1="0" y1="42.96" x2="120" y2="42.96" class="mn"/><line x1="0" y1="46.33" x2="120" y2="46.33" class="mn"/><line x1="0" y1="53.07" x2="120" y2="53.07" class="mn"/><line x1="0" y1="56.44" x2="120" y2="56.44" class="mn"/><line x1="0" y1="59.81" x2="120" y2="59.81" class="mn"/><line x1="0" y1="63.18" x2="120" y2="63.18" class="mn"/><line x1="0" y1="69.92" x2="120" y2="69.92" class="mn"/><line x1="0" y1="73.29" x2="120" y2="73.29" class="mn"/><line x1="0" y1="76.66" x2="120" y2="76.66" class="mn"/><line x1="0" y1="80.03" x2="120" y2="80.03" class="mn"/><line x1="0" y1="86.77" x2="120" y2="86.77" class="mn"/><line x1="0" y1="90.14" x2="120" y2="90.14" class="mn"/><line x1="0" y1="93.51" x2="120" y2="93.51" class="mn"/><line x1="0" y1="96.88" x2="120" y2="96.88" class="mn"/><line x1="1.90" y1="0" x2="1.90" y2="100" class="mv"/><line x1="18.61" y1="0" x2="18.61" y2="100" class="mv"/><line x1="35.32" y1="0" x2="35.32" y2="100" class="mv"/><line x1="52.03" y1="0" x2="52.03" y2="100" class="mv"/><line x1="68.74" y1="0" x2="68.74" y2="100" class="mv"/><line x1="85.45" y1="0" x2="85.45" y2="100" class="mv"/><line x1="102.16" y1="0" x2="102.16" y2="100" class="mv"/><line x1="118.87" y1="0" x2="118.87" y2="100" class="mv"/><line x1="0" y1="16.00" x2="120" y2="16.00" class="mh"/><line x1="0" y1="32.85" x2="120" y2="32.85" class="mh"/><line x1="0" y1="49.70" x2="120" y2="49.70" class="mh"/><line x1="0" y1="66.55" x2="120" y2="66.55" class="mh"/><line x1="0" y1="83.40" x2="120" y2="83.40" class="mh"/><polyline class="wv" points="0.87,59.50 2.56,37.00 4.25,25.75 8.75,14.50 12.12,6.62 14.37,11.12 15.50,21.25 18.87,30.25 22.25,32.50 26.19,34.75 27.87,48.25 30.12,97.75 31.81,91.00 34.06,42.62 36.87,29.12 40.25,20.12 44.19,6.62 46.44,11.12 48.12,22.37 51.50,30.25 54.87,33.06 58.81,34.75 60.50,48.25 62.19,97.75 63.87,91.00 66.69,41.50 70.62,17.87 75.69,4.37 78.50,8.87 80.75,22.37 85.25,29.12 89.75,32.50 92.00,44.87 94.25,97.75 95.94,89.87 98.19,48.25 101.00,29.12 105.50,15.62 108.87,5.50 111.12,11.12 113.37,23.50 116.75,29.12 119.56,32.50"/></svg></div>
<div class="strip" style="top:894px;height:100px;overflow:hidden"><svg width="120" height="100" viewBox="0 0 120 100"><rect width="120" height="100" fill="#fcdef3"/><line x1="5.24" y1="0" x2="5.24" y2="100" class="mn"/><line x1="8.58" y1="0" x2="8.58" y2="100" class="mn"/><line x1="11.93" y1="0" x2="11.93" y2="100" class="mn"/><line x1="15.27" y1="0" x2="15.27" y2="100" class="mn"/><line x1="21.95" y1="0" x2="21.95" y2="100" class="mn"/><line x1="25.29" y1="0" x2="25.29" y2="100" class="mn"/><line x1="28.64" y1="0" x2="28.64" y2="100" class="mn"/><line x1="31.98" y1="0" x2="31.98" y2="100" class="mn"/><line x1="38.66" y1="0" x2="38.66" y2="100" class="mn"/><line x1="42.00" y1="0" x2="42.00" y2="100" class="mn"/><line x1="45.35" y1="0" x2="45.35" y2="100" class="mn"/><line x1="48.69" y1="0" x2="48.69" y2="100" class="mn"/><line x1="55.37" y1="0" x2="55.37" y2="100" class="mn"/><line x1="58.71" y1="0" x2="58.71" y2="100" class="mn"/><line x1="62.06" y1="0" x2="62.06" y2="100" class="mn"/><line x1="65.40" y1="0" x2="65.40" y2="100" class="mn"/><line x1="72.08" y1="0" x2="72.08" y2="100" class="mn"/><line x1="75.42" y1="0" x2="75.42" y2="100" class="mn"/><line x1="78.77" y1="0" x2="78.77" y2="100" class="mn"/><line x1="82.11" y1="0" x2="82.11" y2="100" class="mn"/><line x1="88.79" y1="0" x2="88.79" y2="100" class="mn"/><line x1="92.13" y1="0" x2="92.13" y2="100" class="mn"/><line x1="95.48" y1="0" x2="95.48" y2="100" class="mn"/><line x1="98.82" y1="0" x2="98.82" y2="100" class="mn"/><line x1="105.50" y1="0" x2="105.50" y2="100" class="mn"/><line x1="108.84" y1="0" x2="108.84" y2="100" class="mn"/><line x1="112.19" y1="0" x2="112.19" y2="100" class="mn"/><line x1="115.53" y1="0" x2="115.53" y2="100" class="mn"/><line x1="0" y1="2.52" x2="120" y2="2.52" class="mn"/><line x1="0" y1="5.89" x2="120" y2="5.89" class="mn"/><line x1="0" y1="9.26" x2="120" y2="9.26" class="mn"/><line x1="0" y1="12.63" x2="120" y2="12.63" class="mn"/><line x1="0" y1="19.37" x2="120" y2="19.37" class="mn"/><line x1="0" y1="22.74" x2="120" y2="22.74" class="mn"/><line x1="0" y1="26.11" x2="120" y2="26.11" class="mn"/><line x1="0" y1="29.48" x2="120" y2="29.48" class="mn"/><line x1="0" y1="36.22" x2="120" y2="36.22" class="mn"/><line x1="0" y1="39.59" x2="120" y2="39.59" class="mn"/><line x1="0" y1="42.96" x2="120" y2="42.96" class="mn"/><line x1="0" y1="46.33" x2="120" y2="46.33" class="mn"/><line x1="0" y1="53.07" x2="120" y2="53.07" class="mn"/><line x1="0" y1="56.44" x2="120" y2="56.44" class="mn"/><line x1="0" y1="59.81" x2="120" y2="59.81" class="mn"/><line x1="0" y1="63.18" x2="120" y2="63.18" class="mn"/><line x1="0" y1="69.92" x2="120" y2="69.92" class="mn"/><line x1="0" y1="73.29" x2="120" y2="73.29" class="mn"/><line x1="0" y1="76.66" x2="120" y2="76.66" class="mn"/><line x1="0" y1="80.03" x2="120" y2="80.03" class="mn"/><line x1="0" y1="86.77" x2="120" y2="86.77" class="mn"/><line x1="0" y1="90.14" x2="120" y2="90.14" class="mn"/><line x1="0" y1="93.51" x2="120" y2="93.51" class="mn"/><line x1="0" y1="96.88" x2="120" y2="96.88" class="mn"/><line x1="1.90" y1="0" x2="1.90" y2="100" class="mv"/><line x1="18.61" y1="0" x2="18.61" y2="100" class="mv"/><line x1="35.32" y1="0" x2="35.32" y2="100" class="mv"/><line x1="52.03" y1="0" x2="52.03" y2="100" class="mv"/><line x1="68.74" y1="0" x2="68.74" y2="100" class="mv"/><line x1="85.45" y1="0" x2="85.45" y2="100" class="mv"/><line x1="102.16" y1="0" x2="102.16" y2="100" class="mv"/><line x1="118.87" y1="0" x2="118.87" y2="100" class="mv"/><line x1="0" y1="16.00" x2="120" y2="16.00" class="mh"/><line x1="0" y1="32.85" x2="120" y2="32.85" class="mh"/><line x1="0" y1="49.70" x2="120" y2="49.70" class="mh"/><line x1="0" y1="66.55" x2="120" y2="66.55" class="mh"/><line x1="0" y1="83.40" x2="120" y2="83.40" class="mh"/><polyline class="wv" points="0.87,13.37 1.44,25.75 2.56,59.50 5.37,69.62 8.75,72.44 12.69,67.37 15.50,58.37 20.00,52.75 21.12,34.75 25.06,12.25 26.19,55.00 29.00,68.50 32.37,72.44 35.75,69.62 40.25,58.37 44.75,52.75 48.12,14.50 49.25,21.25 50.37,57.25 52.62,69.62 55.44,72.44 59.37,68.50 65.00,52.75 69.50,43.75 71.75,7.75 73.44,14.50 74.56,55.00 78.50,64.00 80.75,65.12 85.25,59.50 91.44,50.50 95.37,8.31 96.50,21.25 98.75,57.25 102.12,60.62 106.62,57.25 108.87,41.50 112.25,34.75 117.31,31.37 118.44,10.00 119.56,7.75"/></svg></div>
<div class="strip" style="top:1013px;height:100px;overflow:hidden"><svg width="120" height="100" viewBox="0 0 120 100"><rect width="120" height="100" fill="#fcdef3"/><line x1="5.24" y1="0" x2="5.24" y2="100" class="mn"/><line x1="8.58" y1="0" x2="8.58" y2="100" class="mn"/><line x1="11.93" y1="0" x2="11.93" y2="100" class="mn"/><line x1="15.27" y1="0" x2="15.27" y2="100" class="mn"/><line x1="21.95" y1="0" x2="21.95" y2="100" class="mn"/><line x1="25.29" y1="0" x2="25.29" y2="100" class="mn"/><line x1="28.64" y1="0" x2="28.64" y2="100" class="mn"/><line x1="31.98" y1="0" x2="31.98" y2="100" class="mn"/><line x1="38.66" y1="0" x2="38.66" y2="100" class="mn"/><line x1="42.00" y1="0" x2="42.00" y2="100" class="mn"/><line x1="45.35" y1="0" x2="45.35" y2="100" class="mn"/><line x1="48.69" y1="0" x2="48.69" y2="100" class="mn"/><line x1="55.37" y1="0" x2="55.37" y2="100" class="mn"/><line x1="58.71" y1="0" x2="58.71" y2="100" class="mn"/><line x1="62.06" y1="0" x2="62.06" y2="100" class="mn"/><line x1="65.40" y1="0" x2="65.40" y2="100" class="mn"/><line x1="72.08" y1="0" x2="72.08" y2="100" class="mn"/><line x1="75.42" y1="0" x2="75.42" y2="100" class="mn"/><line x1="78.77" y1="0" x2="78.77" y2="100" class="mn"/><line x1="82.11" y1="0" x2="82.11" y2="100" class="mn"/><line x1="88.79" y1="0" x2="88.79" y2="100" class="mn"/><line x1="92.13" y1="0" x2="92.13" y2="100" class="mn"/><line x1="95.48" y1="0" x2="95.48" y2="100" class="mn"/><line x1="98.82" y1="0" x2="98.82" y2="100" class="mn"/><line x1="105.50" y1="0" x2="105.50" y2="100" class="mn"/><line x1="108.84" y1="0" x2="108.84" y2="100" class="mn"/><line x1="112.19" y1="0" x2="112.19" y2="100" class="mn"/><line x1="115.53" y1="0" x2="115.53" y2="100" class="mn"/><line x1="0" y1="2.52" x2="120" y2="2.52" class="mn"/><line x1="0" y1="5.89" x2="120" y2="5.89" class="mn"/><line x1="0" y1="9.26" x2="120" y2="9.26" class="mn"/><line x1="0" y1="12.63" x2="120" y2="12.63" class="mn"/><line x1="0" y1="19.37" x2="120" y2="19.37" class="mn"/><line x1="0" y1="22.74" x2="120" y2="22.74" class="mn"/><line x1="0" y1="26.11" x2="120" y2="26.11" class="mn"/><line x1="0" y1="29.48" x2="120" y2="29.48" class="mn"/><line x1="0" y1="36.22" x2="120" y2="36.22" class="mn"/><line x1="0" y1="39.59" x2="120" y2="39.59" class="mn"/><line x1="0" y1="42.96" x2="120" y2="42.96" class="mn"/><line x1="0" y1="46.33" x2="120" y2="46.33" class="mn"/><line x1="0" y1="53.07" x2="120" y2="53.07" class="mn"/><line x1="0" y1="56.44" x2="120" y2="56.44" class="mn"/><line x1="0" y1="59.81" x2="120" y2="59.81" class="mn"/><line x1="0" y1="63.18" x2="120" y2="63.18" class="mn"/><line x1="0" y1="69.92" x2="120" y2="69.92" class="mn"/><line x1="0" y1="73.29" x2="120" y2="73.29" class="mn"/><line x1="0" y1="76.66" x2="120" y2="76.66" class="mn"/><line x1="0" y1="80.03" x2="120" y2="80.03" class="mn"/><line x1="0" y1="86.77" x2="120" y2="86.77" class="mn"/><line x1="0" y1="90.14" x2="120" y2="90.14" class="mn"/><line x1="0" y1="93.51" x2="120" y2="93.51" class="mn"/><line x1="0" y1="96.88" x2="120" y2="96.88" class="mn"/><line x1="1.90" y1="0" x2="1.90" y2="100" class="mv"/><line x1="18.61" y1="0" x2="18.61" y2="100" class="mv"/><line x1="35.32" y1="0" x2="35.32" y2="100" class="mv"/><line x1="52.03" y1="0" x2="52.03" y2="100" class="mv"/><line x1="68.74" y1="0" x2="68.74" y2="100" class="mv"/><line x1="85.45" y1="0" x2="85.45" y2="100" class="mv"/><line x1="102.16" y1="0" x2="102.16" y2="100" class="mv"/><line x1="118.87" y1="0" x2="118.87" y2="100" class="mv"/><line x1="0" y1="16.00" x2="120" y2="16.00" class="mh"/><line x1="0" y1="32.85" x2="120" y2="32.85" class="mh"/><line x1="0" y1="49.70" x2="120" y2="49.70" class="mh"/><line x1="0" y1="66.55" x2="120" y2="66.55" class="mh"/><line x1="0" y1="83.40" x2="120" y2="83.40" class="mh"/><polyline class="wv" points="0.87,70.75 2.00,48.25 4.25,32.50 8.19,28.00 10.44,33.62 13.25,36.44 15.50,39.25 17.19,53.87 19.44,60.62 22.25,55.00 24.50,40.37 26.75,31.37 29.00,29.69 32.37,31.37 36.31,35.87 38.00,39.25 40.25,55.00 42.50,62.87 44.75,55.00 48.12,39.25 49.25,29.12 53.75,32.50 57.12,39.25 60.50,52.75 62.19,61.75 65.00,55.00 67.81,39.25 71.19,29.12 72.31,39.25 78.50,38.12 81.87,43.75 84.12,55.00 86.37,60.62 89.75,43.75 93.12,24.62 95.37,46.00 97.62,37.00 101.56,46.00 105.50,56.12 107.75,64.00 111.12,48.25 113.94,31.37 115.62,12.25 117.87,17.87 119.56,30.25"/></svg></div>
<div class="strip" style="top:1131px;height:100px;overflow:hidden"><svg width="120" height="100" viewBox="0 0 120 100"><rect width="120" height="100" fill="#fcdef3"/><line x1="5.24" y1="0" x2="5.24" y2="100" class="mn"/><line x1="8.58" y1="0" x2="8.58" y2="100" class="mn"/><line x1="11.93" y1="0" x2="11.93" y2="100" class="mn"/><line x1="15.27" y1="0" x2="15.27" y2="100" class="mn"/><line x1="21.95" y1="0" x2="21.95" y2="100" class="mn"/><line x1="25.29" y1="0" x2="25.29" y2="100" class="mn"/><line x1="28.64" y1="0" x2="28.64" y2="100" class="mn"/><line x1="31.98" y1="0" x2="31.98" y2="100" class="mn"/><line x1="38.66" y1="0" x2="38.66" y2="100" class="mn"/><line x1="42.00" y1="0" x2="42.00" y2="100" class="mn"/><line x1="45.35" y1="0" x2="45.35" y2="100" class="mn"/><line x1="48.69" y1="0" x2="48.69" y2="100" class="mn"/><line x1="55.37" y1="0" x2="55.37" y2="100" class="mn"/><line x1="58.71" y1="0" x2="58.71" y2="100" class="mn"/><line x1="62.06" y1="0" x2="62.06" y2="100" class="mn"/><line x1="65.40" y1="0" x2="65.40" y2="100" class="mn"/><line x1="72.08" y1="0" x2="72.08" y2="100" class="mn"/><line x1="75.42" y1="0" x2="75.42" y2="100" class="mn"/><line x1="78.77" y1="0" x2="78.77" y2="100" class="mn"/><line x1="82.11" y1="0" x2="82.11" y2="100" class="mn"/><line x1="88.79" y1="0" x2="88.79" y2="100" class="mn"/><line x1="92.13" y1="0" x2="92.13" y2="100" class="mn"/><line x1="95.48" y1="0" x2="95.48" y2="100" class="mn"/><line x1="98.82" y1="0" x2="98.82" y2="100" class="mn"/><line x1="105.50" y1="0" x2="105.50" y2="100" class="mn"/><line x1="108.84" y1="0" x2="108.84" y2="100" class="mn"/><line x1="112.19" y1="0" x2="112.19" y2="100" class="mn"/><line x1="115.53" y1="0" x2="115.53" y2="100" class="mn"/><line x1="0" y1="2.52" x2="120" y2="2.52" class="mn"/><line x1="0" y1="5.89" x2="120" y2="5.89" class="mn"/><line x1="0" y1="9.26" x2="120" y2="9.26" class="mn"/><line x1="0" y1="12.63" x2="120" y2="12.63" class="mn"/><line x1="0" y1="19.37" x2="120" y2="19.37" class="mn"/><line x1="0" y1="22.74" x2="120" y2="22.74" class="mn"/><line x1="0" y1="26.11" x2="120" y2="26.11" class="mn"/><line x1="0" y1="29.48" x2="120" y2="29.48" class="mn"/><line x1="0" y1="36.22" x2="120" y2="36.22" class="mn"/><line x1="0" y1="39.59" x2="120" y2="39.59" class="mn"/><line x1="0" y1="42.96" x2="120" y2="42.96" class="mn"/><line x1="0" y1="46.33" x2="120" y2="46.33" class="mn"/><line x1="0" y1="53.07" x2="120" y2="53.07" class="mn"/><line x1="0" y1="56.44" x2="120" y2="56.44" class="mn"/><line x1="0" y1="59.81" x2="120" y2="59.81" class="mn"/><line x1="0" y1="63.18" x2="120" y2="63.18" class="mn"/><line x1="0" y1="69.92" x2="120" y2="69.92" class="mn"/><line x1="0" y1="73.29" x2="120" y2="73.29" class="mn"/><line x1="0" y1="76.66" x2="120" y2="76.66" class="mn"/><line x1="0" y1="80.03" x2="120" y2="80.03" class="mn"/><line x1="0" y1="86.77" x2="120" y2="86.77" class="mn"/><line x1="0" y1="90.14" x2="120" y2="90.14" class="mn"/><line x1="0" y1="93.51" x2="120" y2="93.51" class="mn"/><line x1="0" y1="96.88" x2="120" y2="96.88" class="mn"/><line x1="1.90" y1="0" x2="1.90" y2="100" class="mv"/><line x1="18.61" y1="0" x2="18.61" y2="100" class="mv"/><line x1="35.32" y1="0" x2="35.32" y2="100" class="mv"/><line x1="52.03" y1="0" x2="52.03" y2="100" class="mv"/><line x1="68.74" y1="0" x2="68.74" y2="100" class="mv"/><line x1="85.45" y1="0" x2="85.45" y2="100" class="mv"/><line x1="102.16" y1="0" x2="102.16" y2="100" class="mv"/><line x1="118.87" y1="0" x2="118.87" y2="100" class="mv"/><line x1="0" y1="16.00" x2="120" y2="16.00" class="mh"/><line x1="0" y1="32.85" x2="120" y2="32.85" class="mh"/><line x1="0" y1="49.70" x2="120" y2="49.70" class="mh"/><line x1="0" y1="66.55" x2="120" y2="66.55" class="mh"/><line x1="0" y1="83.40" x2="120" y2="83.40" class="mh"/><polyline class="wv" points="0.31,69.62 3.12,64.00 8.19,62.87 9.31,33.62 11.00,65.12 14.37,71.87 20.00,66.25 25.62,62.87 26.75,32.50 28.44,66.25 31.25,71.87 36.87,67.37 43.06,62.87 44.75,31.37 46.44,65.12 49.25,71.87 56.00,66.25 61.62,62.87 62.75,33.62 64.44,66.25 66.69,71.87 74.00,65.12 78.50,62.87 80.19,32.50 81.87,66.25 84.69,71.87 90.87,66.25 97.06,62.87 98.19,32.50 99.87,66.25 102.69,71.87 108.87,66.25 115.06,62.87 116.19,33.62 117.87,66.25 119.56,71.87"/></svg></div>
<div class="strip" style="top:1250px;height:100px;overflow:hidden"><svg width="120" height="100" viewBox="0 0 120 100"><rect width="120" height="100" fill="#fcdef3"/><line x1="5.24" y1="0" x2="5.24" y2="100" class="mn"/><line x1="8.58" y1="0" x2="8.58" y2="100" class="mn"/><line x1="11.93" y1="0" x2="11.93" y2="100" class="mn"/><line x1="15.27" y1="0" x2="15.27" y2="100" class="mn"/><line x1="21.95" y1="0" x2="21.95" y2="100" class="mn"/><line x1="25.29" y1="0" x2="25.29" y2="100" class="mn"/><line x1="28.64" y1="0" x2="28.64" y2="100" class="mn"/><line x1="31.98" y1="0" x2="31.98" y2="100" class="mn"/><line x1="38.66" y1="0" x2="38.66" y2="100" class="mn"/><line x1="42.00" y1="0" x2="42.00" y2="100" class="mn"/><line x1="45.35" y1="0" x2="45.35" y2="100" class="mn"/><line x1="48.69" y1="0" x2="48.69" y2="100" class="mn"/><line x1="55.37" y1="0" x2="55.37" y2="100" class="mn"/><line x1="58.71" y1="0" x2="58.71" y2="100" class="mn"/><line x1="62.06" y1="0" x2="62.06" y2="100" class="mn"/><line x1="65.40" y1="0" x2="65.40" y2="100" class="mn"/><line x1="72.08" y1="0" x2="72.08" y2="100" class="mn"/><line x1="75.42" y1="0" x2="75.42" y2="100" class="mn"/><line x1="78.77" y1="0" x2="78.77" y2="100" class="mn"/><line x1="82.11" y1="0" x2="82.11" y2="100" class="mn"/><line x1="88.79" y1="0" x2="88.79" y2="100" class="mn"/><line x1="92.13" y1="0" x2="92.13" y2="100" class="mn"/><line x1="95.48" y1="0" x2="95.48" y2="100" class="mn"/><line x1="98.82" y1="0" x2="98.82" y2="100" class="mn"/><line x1="105.50" y1="0" x2="105.50" y2="100" class="mn"/><line x1="108.84" y1="0" x2="108.84" y2="100" class="mn"/><line x1="112.19" y1="0" x2="112.19" y2="100" class="mn"/><line x1="115.53" y1="0" x2="115.53" y2="100" class="mn"/><line x1="0" y1="2.52" x2="120" y2="2.52" class="mn"/><line x1="0" y1="5.89" x2="120" y2="5.89" class="mn"/><line x1="0" y1="9.26" x2="120" y2="9.26" class="mn"/><line x1="0" y1="12.63" x2="120" y2="12.63" class="mn"/><line x1="0" y1="19.37" x2="120" y2="19.37" class="mn"/><line x1="0" y1="22.74" x2="120" y2="22.74" class="mn"/><line x1="0" y1="26.11" x2="120" y2="26.11" class="mn"/><line x1="0" y1="29.48" x2="120" y2="29.48" class="mn"/><line x1="0" y1="36.22" x2="120" y2="36.22" class="mn"/><line x1="0" y1="39.59" x2="120" y2="39.59" class="mn"/><line x1="0" y1="42.96" x2="120" y2="42.96" class="mn"/><line x1="0" y1="46.33" x2="120" y2="46.33" class="mn"/><line x1="0" y1="53.07" x2="120" y2="53.07" class="mn"/><line x1="0" y1="56.44" x2="120" y2="56.44" class="mn"/><line x1="0" y1="59.81" x2="120" y2="59.81" class="mn"/><line x1="0" y1="63.18" x2="120" y2="63.18" class="mn"/><line x1="0" y1="69.92" x2="120" y2="69.92" class="mn"/><line x1="0" y1="73.29" x2="120" y2="73.29" class="mn"/><line x1="0" y1="76.66" x2="120" y2="76.66" class="mn"/><line x1="0" y1="80.03" x2="120" y2="80.03" class="mn"/><line x1="0" y1="86.77" x2="120" y2="86.77" class="mn"/><line x1="0" y1="90.14" x2="120" y2="90.14" class="mn"/><line x1="0" y1="93.51" x2="120" y2="93.51" class="mn"/><line x1="0" y1="96.88" x2="120" y2="96.88" class="mn"/><line x1="1.90" y1="0" x2="1.90" y2="100" class="mv"/><line x1="18.61" y1="0" x2="18.61" y2="100" class="mv"/><line x1="35.32" y1="0" x2="35.32" y2="100" class="mv"/><line x1="52.03" y1="0" x2="52.03" y2="100" class="mv"/><line x1="68.74" y1="0" x2="68.74" y2="100" class="mv"/><line x1="85.45" y1="0" x2="85.45" y2="100" class="mv"/><line x1="102.16" y1="0" x2="102.16" y2="100" class="mv"/><line x1="118.87" y1="0" x2="118.87" y2="100" class="mv"/><line x1="0" y1="16.00" x2="120" y2="16.00" class="mh"/><line x1="0" y1="32.85" x2="120" y2="32.85" class="mh"/><line x1="0" y1="49.70" x2="120" y2="49.70" class="mh"/><line x1="0" y1="66.55" x2="120" y2="66.55" class="mh"/><line x1="0" y1="83.40" x2="120" y2="83.40" class="mh"/><polyline class="wv" points="0.87,25.31 3.69,27.00 4.81,49.50 6.50,92.25 7.62,93.94 60.50,93.94 62.75,87.75 67.25,64.12 71.75,45.00 75.12,36.00 83.00,21.37 84.69,7.87 86.37,11.25 90.87,10.69 95.37,5.62 103.25,9.00 114.50,5.06 119.56,7.31"/></svg></div>
<div class="strip" style="top:1368px;height:100px;overflow:hidden"><svg width="120" height="100" viewBox="0 0 120 100"><rect width="120" height="100" fill="#fcdef3"/><line x1="5.24" y1="0" x2="5.24" y2="100" class="mn"/><line x1="8.58" y1="0" x2="8.58" y2="100" class="mn"/><line x1="11.93" y1="0" x2="11.93" y2="100" class="mn"/><line x1="15.27" y1="0" x2="15.27" y2="100" class="mn"/><line x1="21.95" y1="0" x2="21.95" y2="100" class="mn"/><line x1="25.29" y1="0" x2="25.29" y2="100" class="mn"/><line x1="28.64" y1="0" x2="28.64" y2="100" class="mn"/><line x1="31.98" y1="0" x2="31.98" y2="100" class="mn"/><line x1="38.66" y1="0" x2="38.66" y2="100" class="mn"/><line x1="42.00" y1="0" x2="42.00" y2="100" class="mn"/><line x1="45.35" y1="0" x2="45.35" y2="100" class="mn"/><line x1="48.69" y1="0" x2="48.69" y2="100" class="mn"/><line x1="55.37" y1="0" x2="55.37" y2="100" class="mn"/><line x1="58.71" y1="0" x2="58.71" y2="100" class="mn"/><line x1="62.06" y1="0" x2="62.06" y2="100" class="mn"/><line x1="65.40" y1="0" x2="65.40" y2="100" class="mn"/><line x1="72.08" y1="0" x2="72.08" y2="100" class="mn"/><line x1="75.42" y1="0" x2="75.42" y2="100" class="mn"/><line x1="78.77" y1="0" x2="78.77" y2="100" class="mn"/><line x1="82.11" y1="0" x2="82.11" y2="100" class="mn"/><line x1="88.79" y1="0" x2="88.79" y2="100" class="mn"/><line x1="92.13" y1="0" x2="92.13" y2="100" class="mn"/><line x1="95.48" y1="0" x2="95.48" y2="100" class="mn"/><line x1="98.82" y1="0" x2="98.82" y2="100" class="mn"/><line x1="105.50" y1="0" x2="105.50" y2="100" class="mn"/><line x1="108.84" y1="0" x2="108.84" y2="100" class="mn"/><line x1="112.19" y1="0" x2="112.19" y2="100" class="mn"/><line x1="115.53" y1="0" x2="115.53" y2="100" class="mn"/><line x1="0" y1="2.52" x2="120" y2="2.52" class="mn"/><line x1="0" y1="5.89" x2="120" y2="5.89" class="mn"/><line x1="0" y1="9.26" x2="120" y2="9.26" class="mn"/><line x1="0" y1="12.63" x2="120" y2="12.63" class="mn"/><line x1="0" y1="19.37" x2="120" y2="19.37" class="mn"/><line x1="0" y1="22.74" x2="120" y2="22.74" class="mn"/><line x1="0" y1="26.11" x2="120" y2="26.11" class="mn"/><line x1="0" y1="29.48" x2="120" y2="29.48" class="mn"/><line x1="0" y1="36.22" x2="120" y2="36.22" class="mn"/><line x1="0" y1="39.59" x2="120" y2="39.59" class="mn"/><line x1="0" y1="42.96" x2="120" y2="42.96" class="mn"/><line x1="0" y1="46.33" x2="120" y2="46.33" class="mn"/><line x1="0" y1="53.07" x2="120" y2="53.07" class="mn"/><line x1="0" y1="56.44" x2="120" y2="56.44" class="mn"/><line x1="0" y1="59.81" x2="120" y2="59.81" class="mn"/><line x1="0" y1="63.18" x2="120" y2="63.18" class="mn"/><line x1="0" y1="69.92" x2="120" y2="69.92" class="mn"/><line x1="0" y1="73.29" x2="120" y2="73.29" class="mn"/><line x1="0" y1="76.66" x2="120" y2="76.66" class="mn"/><line x1="0" y1="80.03" x2="120" y2="80.03" class="mn"/><line x1="0" y1="86.77" x2="120" y2="86.77" class="mn"/><line x1="0" y1="90.14" x2="120" y2="90.14" class="mn"/><line x1="0" y1="93.51" x2="120" y2="93.51" class="mn"/><line x1="0" y1="96.88" x2="120" y2="96.88" class="mn"/><line x1="1.90" y1="0" x2="1.90" y2="100" class="mv"/><line x1="18.61" y1="0" x2="18.61" y2="100" class="mv"/><line x1="35.32" y1="0" x2="35.32" y2="100" class="mv"/><line x1="52.03" y1="0" x2="52.03" y2="100" class="mv"/><line x1="68.74" y1="0" x2="68.74" y2="100" class="mv"/><line x1="85.45" y1="0" x2="85.45" y2="100" class="mv"/><line x1="102.16" y1="0" x2="102.16" y2="100" class="mv"/><line x1="118.87" y1="0" x2="118.87" y2="100" class="mv"/><line x1="0" y1="16.00" x2="120" y2="16.00" class="mh"/><line x1="0" y1="32.85" x2="120" y2="32.85" class="mh"/><line x1="0" y1="49.70" x2="120" y2="49.70" class="mh"/><line x1="0" y1="66.55" x2="120" y2="66.55" class="mh"/><line x1="0" y1="83.40" x2="120" y2="83.40" class="mh"/><polyline class="wv" points="0.31,46.69 13.25,46.12 26.75,47.81 35.75,46.69 41.37,48.37 47.00,50.62 56.00,50.62 62.75,48.94 71.75,50.62 74.56,45.56 76.25,49.50 78.50,70.87 80.75,64.12 86.37,39.37 90.87,34.31 94.25,35.44 98.75,41.62 102.69,46.12 114.50,46.69 119.56,48.94"/><text x="-2" y="91.5" font-family="Liberation Sans" font-weight="700" font-size="13" fill="#111" textLength="124" lengthAdjust="spacingAndGlyphs">s no pulse with tl</text></svg></div>
<div class="strip" style="top:1486px;height:100px;overflow:hidden"><svg width="120" height="100" viewBox="0 0 120 100"><rect width="120" height="100" fill="#fcdef3"/><line x1="5.24" y1="0" x2="5.24" y2="100" class="mn"/><line x1="8.58" y1="0" x2="8.58" y2="100" class="mn"/><line x1="11.93" y1="0" x2="11.93" y2="100" class="mn"/><line x1="15.27" y1="0" x2="15.27" y2="100" class="mn"/><line x1="21.95" y1="0" x2="21.95" y2="100" class="mn"/><line x1="25.29" y1="0" x2="25.29" y2="100" class="mn"/><line x1="28.64" y1="0" x2="28.64" y2="100" class="mn"/><line x1="31.98" y1="0" x2="31.98" y2="100" class="mn"/><line x1="38.66" y1="0" x2="38.66" y2="100" class="mn"/><line x1="42.00" y1="0" x2="42.00" y2="100" class="mn"/><line x1="45.35" y1="0" x2="45.35" y2="100" class="mn"/><line x1="48.69" y1="0" x2="48.69" y2="100" class="mn"/><line x1="55.37" y1="0" x2="55.37" y2="100" class="mn"/><line x1="58.71" y1="0" x2="58.71" y2="100" class="mn"/><line x1="62.06" y1="0" x2="62.06" y2="100" class="mn"/><line x1="65.40" y1="0" x2="65.40" y2="100" class="mn"/><line x1="72.08" y1="0" x2="72.08" y2="100" class="mn"/><line x1="75.42" y1="0" x2="75.42" y2="100" class="mn"/><line x1="78.77" y1="0" x2="78.77" y2="100" class="mn"/><line x1="82.11" y1="0" x2="82.11" y2="100" class="mn"/><line x1="88.79" y1="0" x2="88.79" y2="100" class="mn"/><line x1="92.13" y1="0" x2="92.13" y2="100" class="mn"/><line x1="95.48" y1="0" x2="95.48" y2="100" class="mn"/><line x1="98.82" y1="0" x2="98.82" y2="100" class="mn"/><line x1="105.50" y1="0" x2="105.50" y2="100" class="mn"/><line x1="108.84" y1="0" x2="108.84" y2="100" class="mn"/><line x1="112.19" y1="0" x2="112.19" y2="100" class="mn"/><line x1="115.53" y1="0" x2="115.53" y2="100" class="mn"/><line x1="0" y1="2.52" x2="120" y2="2.52" class="mn"/><line x1="0" y1="5.89" x2="120" y2="5.89" class="mn"/><line x1="0" y1="9.26" x2="120" y2="9.26" class="mn"/><line x1="0" y1="12.63" x2="120" y2="12.63" class="mn"/><line x1="0" y1="19.37" x2="120" y2="19.37" class="mn"/><line x1="0" y1="22.74" x2="120" y2="22.74" class="mn"/><line x1="0" y1="26.11" x2="120" y2="26.11" class="mn"/><line x1="0" y1="29.48" x2="120" y2="29.48" class="mn"/><line x1="0" y1="36.22" x2="120" y2="36.22" class="mn"/><line x1="0" y1="39.59" x2="120" y2="39.59" class="mn"/><line x1="0" y1="42.96" x2="120" y2="42.96" class="mn"/><line x1="0" y1="46.33" x2="120" y2="46.33" class="mn"/><line x1="0" y1="53.07" x2="120" y2="53.07" class="mn"/><line x1="0" y1="56.44" x2="120" y2="56.44" class="mn"/><line x1="0" y1="59.81" x2="120" y2="59.81" class="mn"/><line x1="0" y1="63.18" x2="120" y2="63.18" class="mn"/><line x1="0" y1="69.92" x2="120" y2="69.92" class="mn"/><line x1="0" y1="73.29" x2="120" y2="73.29" class="mn"/><line x1="0" y1="76.66" x2="120" y2="76.66" class="mn"/><line x1="0" y1="80.03" x2="120" y2="80.03" class="mn"/><line x1="0" y1="86.77" x2="120" y2="86.77" class="mn"/><line x1="0" y1="90.14" x2="120" y2="90.14" class="mn"/><line x1="0" y1="93.51" x2="120" y2="93.51" class="mn"/><line x1="0" y1="96.88" x2="120" y2="96.88" class="mn"/><line x1="1.90" y1="0" x2="1.90" y2="100" class="mv"/><line x1="18.61" y1="0" x2="18.61" y2="100" class="mv"/><line x1="35.32" y1="0" x2="35.32" y2="100" class="mv"/><line x1="52.03" y1="0" x2="52.03" y2="100" class="mv"/><line x1="68.74" y1="0" x2="68.74" y2="100" class="mv"/><line x1="85.45" y1="0" x2="85.45" y2="100" class="mv"/><line x1="102.16" y1="0" x2="102.16" y2="100" class="mv"/><line x1="118.87" y1="0" x2="118.87" y2="100" class="mv"/><line x1="0" y1="16.00" x2="120" y2="16.00" class="mh"/><line x1="0" y1="32.85" x2="120" y2="32.85" class="mh"/><line x1="0" y1="49.70" x2="120" y2="49.70" class="mh"/><line x1="0" y1="66.55" x2="120" y2="66.55" class="mh"/><line x1="0" y1="83.40" x2="120" y2="83.40" class="mh"/><polyline class="wv" points="0.87,45.56 3.12,45.00 5.94,46.12 7.06,48.37 9.87,67.50 12.69,81.00 14.94,75.37 17.19,68.62 19.44,63.00 20.56,50.62 24.50,55.69 30.12,47.81 35.19,61.87 40.81,47.81 47.00,67.50 49.81,58.50 53.19,67.50 58.25,54.00 64.44,64.12 70.62,45.00 75.12,48.37 79.62,69.75 81.87,81.00 85.25,78.75 87.50,64.12 89.75,49.50 91.44,37.12 97.62,38.25 101.00,64.12 103.25,67.50 106.62,50.62 112.81,41.62 115.62,55.12 119.56,52.31"/></svg></div>
<div class="a hd pgc" id="pg" style="left:1127.49px;top:1652.00px;font-size:17.0px;transform:scaleX(1.1960)">1/</div>
<div class="hr" style="left:57px;top:1698px;width:1086px;height:2px"></div>
</div></body></html>
